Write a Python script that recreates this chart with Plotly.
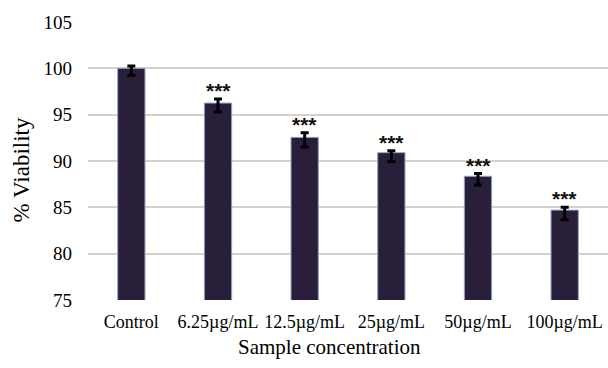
import plotly.graph_objects as go

categories = ["Control", "6.25µg/mL", "12.5µg/mL", "25µg/mL", "50µg/mL", "100µg/mL"]
viability = [100.0, 96.25, 92.55, 90.9, 88.35, 84.7]
err_plus = [0.25, 0.45, 0.5, 0.2, 0.3, 0.3]
err_minus = [0.75, 0.95, 1.05, 0.95, 0.95, 1.05]
significance = ["", "***", "***", "***", "***", "***"]

serif = "Liberation Serif"

fig = go.Figure()
fig.add_trace(go.Bar(
    x=categories, y=viability,
    marker=dict(color="#2a1f3b", line=dict(color="#8fa6bf", width=1)),
    error_y=dict(type="data", symmetric=False, array=err_plus, arrayminus=err_minus,
                 color="#000000", thickness=3, width=4),
    showlegend=False,
))

for c, v, p, s in zip(categories, viability, err_plus, significance):
    if s:
        fig.add_annotation(x=c, y=v + p, text="<b>" + s + "</b>", showarrow=False,
                           yanchor="bottom", yshift=-5,
                           font=dict(family="Liberation Sans", size=21, color="#111111"))

fig.add_annotation(xref="paper", yref="paper", x=(329 - 88) / 520, y=-0.17,
                   text="Sample concentration", showarrow=False, yanchor="middle",
                   xanchor="center", font=dict(family=serif, size=21, color="#000000"))
fig.add_annotation(xref="paper", yref="paper", x=-0.128, y=(300 - 170) / 278,
                   text="% Viability", showarrow=False, textangle=-90,
                   xanchor="center", yanchor="middle",
                   font=dict(family=serif, size=23, color="#000000"))

fig.update_layout(
    width=608, height=368,
    margin=dict(l=88, r=0, t=22, b=68),
    paper_bgcolor="white", plot_bgcolor="white",
    bargap=0.685,
    font=dict(family=serif, size=18, color="#000000"),
    xaxis=dict(showline=False, ticks="", tickfont=dict(family=serif, size=18), showgrid=False,
               ticklabelstandoff=9),
    yaxis=dict(range=[75, 105], dtick=5, showgrid=True, gridcolor="#d8d1ca", gridwidth=1.5,
               zeroline=False, showline=False, ticks="", tickfont=dict(family=serif, size=19),
               ticklabelstandoff=15),
)

fig.write_html("out.html")
